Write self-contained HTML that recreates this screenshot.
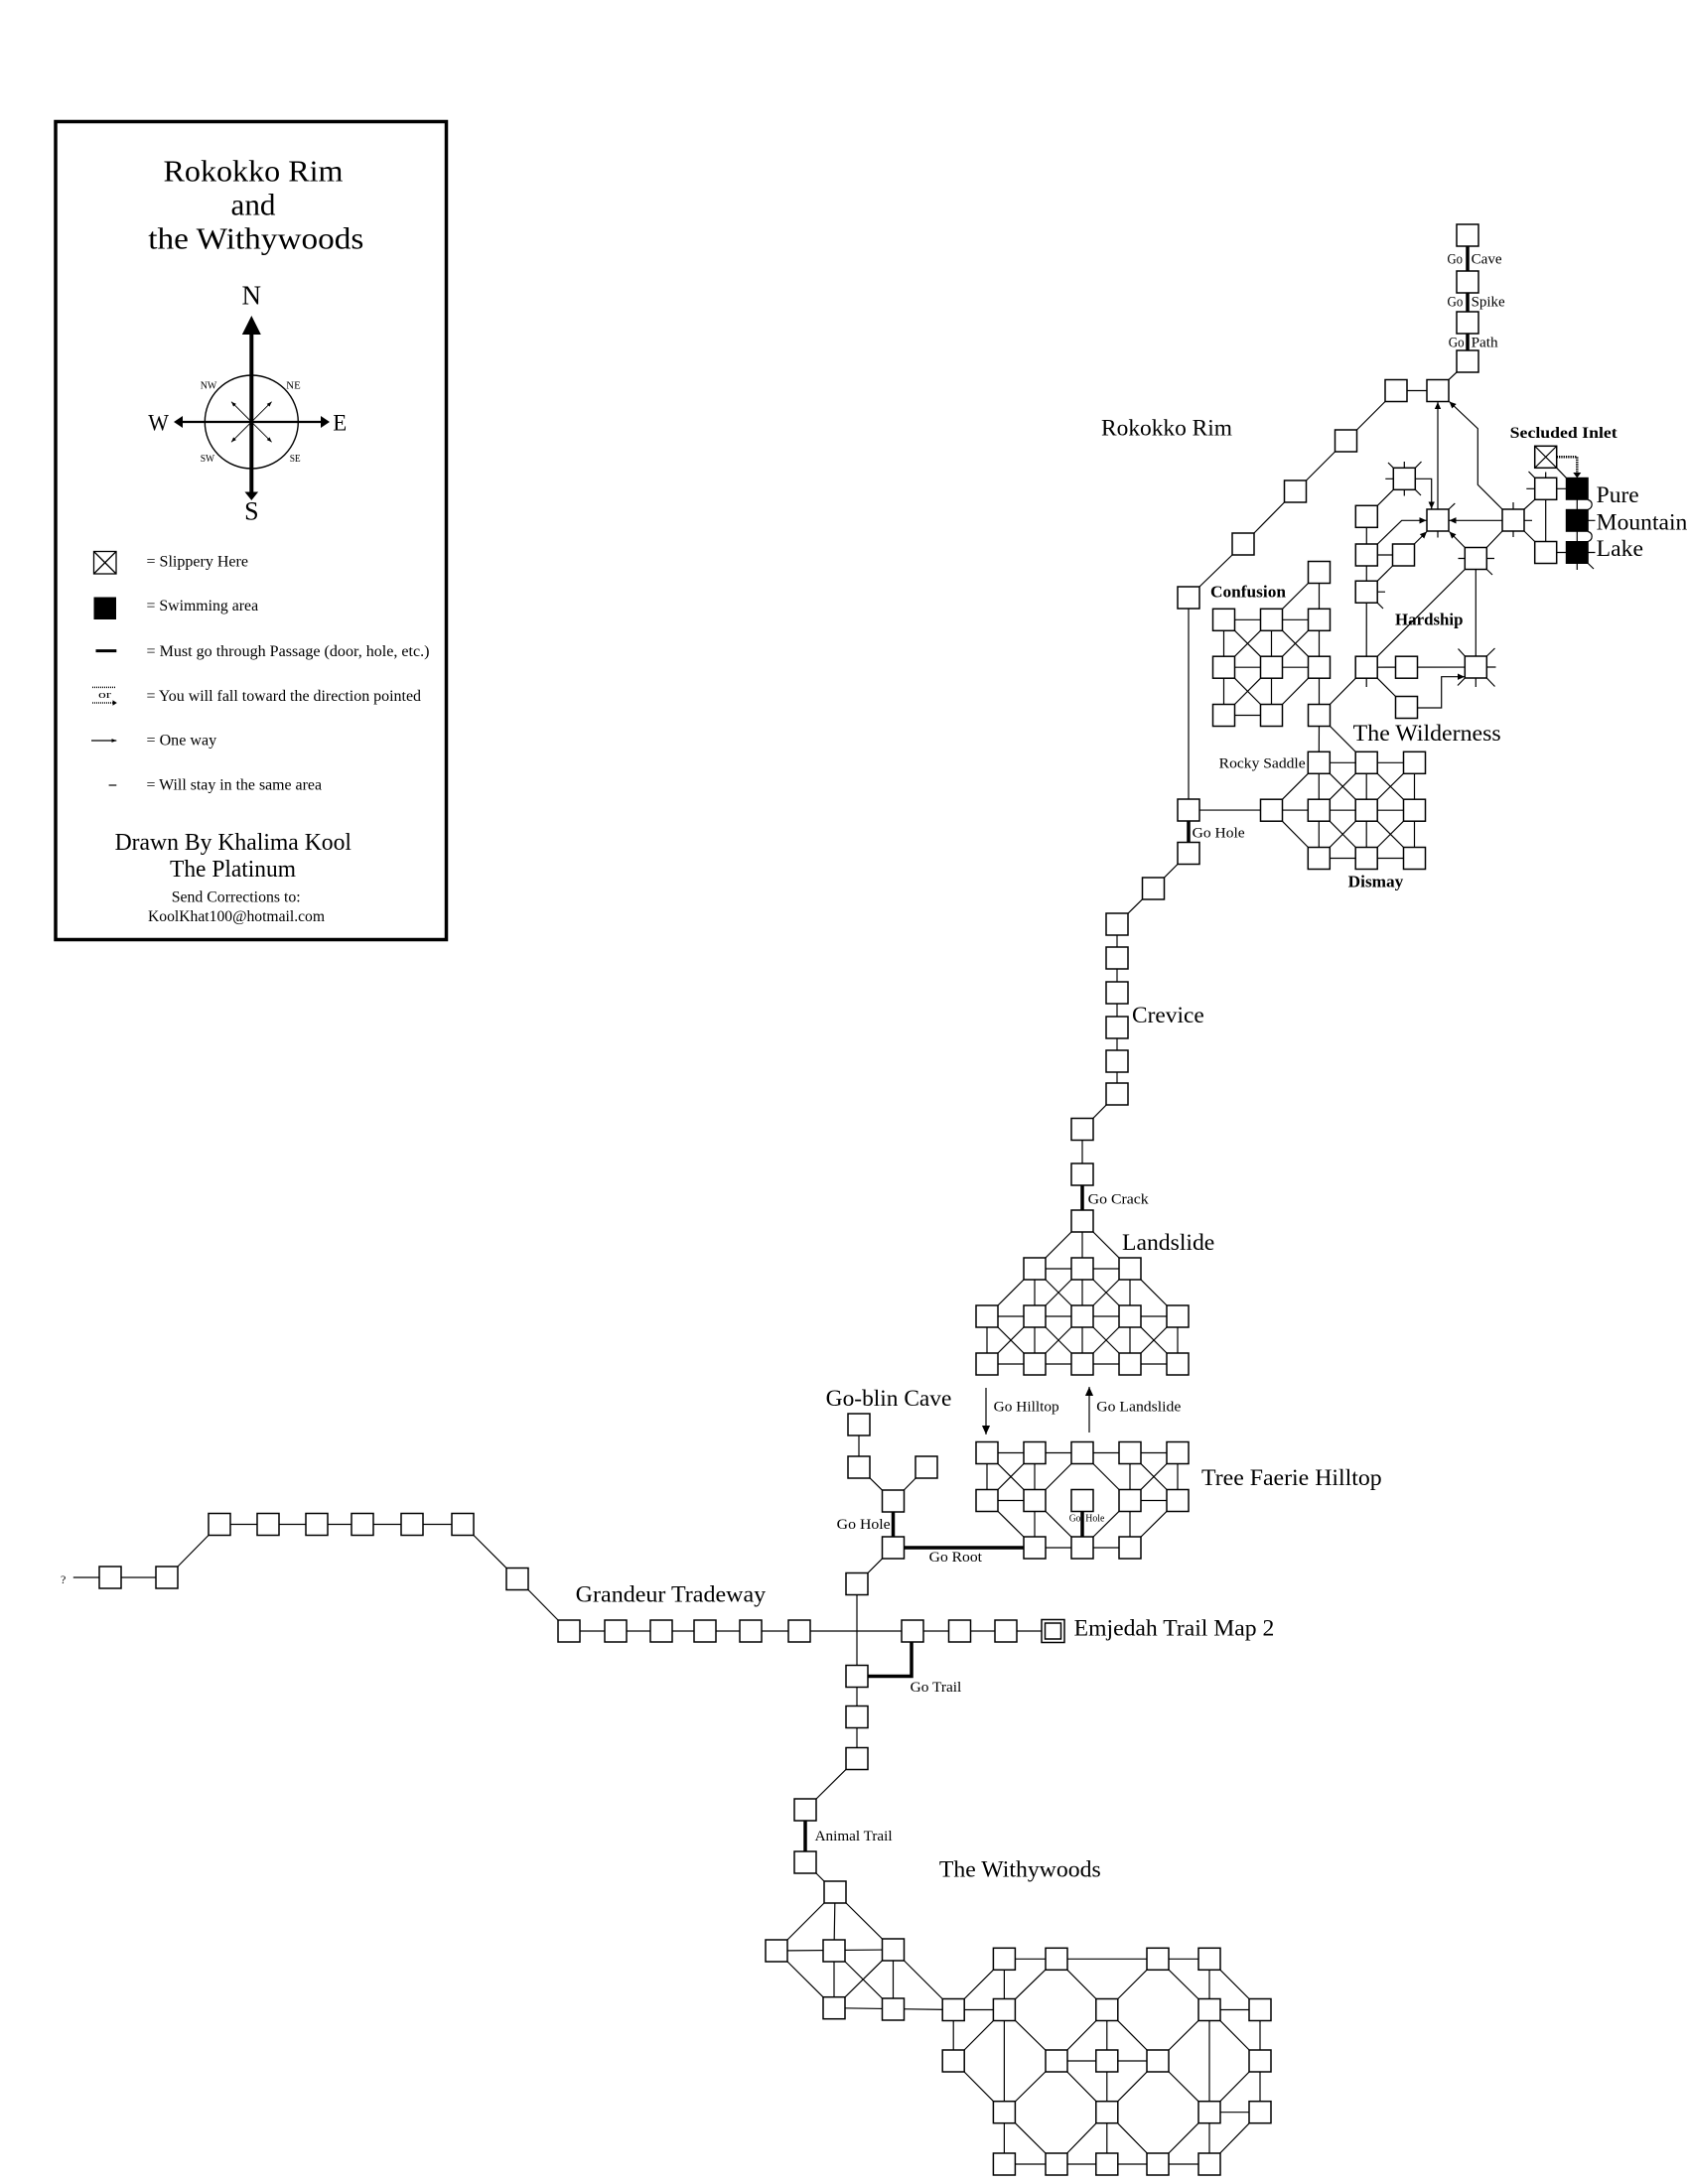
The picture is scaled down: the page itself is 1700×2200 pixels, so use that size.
<!DOCTYPE html>
<html>
<head>
<meta charset="utf-8">
<style>
html,body{margin:0;padding:0;background:#fff;}
svg{display:block;}
text{font-family:"Liberation Serif","Times New Roman",serif;fill:#000;}
</style>
</head>
<body>
<svg xmlns="http://www.w3.org/2000/svg" width="1700" height="2200" viewBox="0 0 1700 2200">
<defs>
<marker id="ah" viewBox="0 0 10 10" refX="10" refY="5" markerWidth="7" markerHeight="7" markerUnits="userSpaceOnUse" orient="auto"><path d="M0,0.5 L10,5 L0,9.5 z" fill="#000"/></marker>
<marker id="ahb" viewBox="0 0 10 10" refX="10" refY="5" markerWidth="9" markerHeight="9" markerUnits="userSpaceOnUse" orient="auto"><path d="M0,0.5 L10,5 L0,9.5 z" fill="#000"/></marker>
<marker id="ahs" viewBox="0 0 10 10" refX="10" refY="5" markerWidth="5" markerHeight="5" markerUnits="userSpaceOnUse" orient="auto"><path d="M0,1 L10,5 L0,9 z" fill="#000"/></marker>
</defs>
<rect width="1700" height="2200" fill="#fff"/>

<!-- ================= LEGEND BOX ================= -->
<rect x="56" y="122.5" width="393.5" height="824" fill="none" stroke="#000" stroke-width="3.5"/>
<text x="255" y="182.4" font-size="31" text-anchor="middle" textLength="181" lengthAdjust="spacingAndGlyphs">Rokokko Rim</text>
<text x="255" y="216.5" font-size="31" text-anchor="middle" textLength="45" lengthAdjust="spacingAndGlyphs">and</text>
<text x="257.8" y="250.7" font-size="31" text-anchor="middle" textLength="217" lengthAdjust="spacingAndGlyphs">the Withywoods</text>

<!-- compass -->
<g stroke="#000" fill="none">
<circle cx="253.3" cy="425" r="47" stroke-width="1.4"/>
<line x1="253.3" y1="334" x2="253.3" y2="497" stroke-width="4"/>
<line x1="182" y1="425" x2="324.5" y2="425" stroke-width="2.2"/>
<g stroke-width="0.9">
<line x1="253.3" y1="425" x2="233" y2="404.7" marker-end="url(#ahs)"/>
<line x1="253.3" y1="425" x2="273.6" y2="404.7" marker-end="url(#ahs)"/>
<line x1="253.3" y1="425" x2="233" y2="445.3" marker-end="url(#ahs)"/>
<line x1="253.3" y1="425" x2="273.6" y2="445.3" marker-end="url(#ahs)"/>
</g>
</g>
<g fill="#000">
<polygon points="253.3,318 243.8,337 262.8,337"/>
<polygon points="253.3,504 246.5,495.5 260.1,495.5"/>
<polygon points="175,425 184,419 184,431"/>
<polygon points="332,425 323,419 323,431"/>
</g>
<text x="253.3" y="306.7" font-size="27" text-anchor="middle">N</text>
<text x="253.3" y="523.3" font-size="26" text-anchor="middle">S</text>
<text x="149.3" y="433.3" font-size="23" textLength="20.7" lengthAdjust="spacingAndGlyphs">W</text>
<text x="335.3" y="433.3" font-size="23" textLength="14" lengthAdjust="spacingAndGlyphs">E</text>
<text x="201.7" y="391.7" font-size="10" textLength="16.6" lengthAdjust="spacingAndGlyphs">NW</text>
<text x="288.3" y="391.7" font-size="10" textLength="14.4" lengthAdjust="spacingAndGlyphs">NE</text>
<text x="201.7" y="465" font-size="10" textLength="14.4" lengthAdjust="spacingAndGlyphs">SW</text>
<text x="291.7" y="465" font-size="10" textLength="11" lengthAdjust="spacingAndGlyphs">SE</text>

<!-- legend symbols -->
<g stroke="#000" fill="none" stroke-width="1.3">
<rect x="94.5" y="555.5" width="22.5" height="22.5" fill="#fff"/>
<path d="M94.5,555.5L117,578M117,555.5L94.5,578"/>
</g>
<rect x="94.5" y="601.5" width="22.5" height="22.5" fill="#000"/>
<line x1="96.5" y1="655.6" x2="117.3" y2="655.6" stroke="#000" stroke-width="3"/>
<line x1="93" y1="692.4" x2="117" y2="692.4" stroke="#000" stroke-width="1.5" stroke-dasharray="1,1"/>
<text x="99" y="703" font-size="10" textLength="13" lengthAdjust="spacingAndGlyphs">or</text>
<line x1="93" y1="708" x2="114" y2="708" stroke="#000" stroke-width="1.5" stroke-dasharray="1,1"/>
<polygon points="113.5,705.3 117.8,708 113.5,710.7" fill="#000"/>
<line x1="92" y1="746" x2="117.3" y2="746" stroke="#000" stroke-width="1.2" marker-end="url(#ahs)"/>
<line x1="109.6" y1="791" x2="117.3" y2="791" stroke="#000" stroke-width="1.2"/>

<g font-size="15.5">
<text x="147.5" y="570.5" textLength="102.5" lengthAdjust="spacingAndGlyphs">= Slippery Here</text>
<text x="147.5" y="615" textLength="112.6" lengthAdjust="spacingAndGlyphs">= Swimming area</text>
<text x="147.5" y="661" textLength="285" lengthAdjust="spacingAndGlyphs">= Must go through Passage (door, hole, etc.)</text>
<text x="147.5" y="706" textLength="276.5" lengthAdjust="spacingAndGlyphs">= You will fall toward the direction pointed</text>
<text x="147.5" y="750.4" textLength="70.6" lengthAdjust="spacingAndGlyphs">= One way</text>
<text x="147.5" y="795.4" textLength="176.5" lengthAdjust="spacingAndGlyphs">= Will stay in the same area</text>
</g>
<text x="115.6" y="856" font-size="24" textLength="238.4" lengthAdjust="spacingAndGlyphs">Drawn By Khalima Kool</text>
<text x="171" y="883" font-size="24" textLength="127" lengthAdjust="spacingAndGlyphs">The Platinum</text>
<text x="172.7" y="908.7" font-size="16" textLength="130" lengthAdjust="spacingAndGlyphs">Send Corrections to:</text>
<text x="149" y="928" font-size="16" textLength="178" lengthAdjust="spacingAndGlyphs">KoolKhat100@hotmail.com</text>

<!-- ================= THIN LINES ================= -->
<g stroke="#000" stroke-width="1.2" fill="none">
<!-- Rokokko rim chain -->
<path d="M1467,375L1459,382.5M1406,393.5L1448,393.5M1395,404.5L1366.5,433M1344.5,455L1315.5,484M1293.5,506L1263,537M1241,559L1208,591M1197,602L1197,816M1197,816L1424.5,816.2"/>
<!-- crevice -->
<path d="M1197,859.5L1161.5,895L1125,931L1125,1102L1090,1137.5L1090,1183"/>
<!-- confusion -->
<path d="M1328.5,576.5L1328.5,720.5M1328.5,576.5L1280.5,624.3M1232.5,624.3L1328.5,624.3M1232.5,672.2L1328.5,672.2M1232.5,720.5L1280.5,720.5M1232.5,624.3L1232.5,720.5M1280.5,624.3L1280.5,720.5M1232.5,624.3L1280.5,672.2M1280.5,624.3L1232.5,672.2M1280.5,624.3L1328.5,672.2M1328.5,624.3L1280.5,672.2M1232.5,672.2L1280.5,720.5M1280.5,672.2L1232.5,720.5M1328.5,672.2L1280.5,720.5M1328.5,720.5L1376.2,672.2M1328.5,720.5L1328.3,768.3M1328.5,720.5L1376.2,768.3"/>
<!-- dismay -->
<path d="M1280.5,816.2L1328.3,768.3M1280.5,816.2L1328.3,864.5M1328.3,768.3L1424.5,768.3M1328.3,864.5L1424.5,864.5M1328.3,768.3L1328.3,864.5M1376.2,768.3L1376.2,864.5M1424.5,768.3L1424.5,864.5M1328.3,768.3L1376.2,816.2M1376.2,768.3L1328.3,816.2M1376.2,768.3L1424.5,816.2M1424.5,768.3L1376.2,816.2M1328.3,816.2L1376.2,864.5M1376.2,816.2L1328.3,864.5M1376.2,816.2L1424.5,864.5M1424.5,816.2L1376.2,864.5"/>
<!-- hardship -->
<path d="M1376.3,520.3L1376.2,672.2M1403.3,493.3L1387.3,509.3M1376.3,559L1413.5,559M1402.5,570L1387.2,585.2M1387.2,596.2L1395,596.2M1387.2,607.2L1393,613M1376.2,672.2L1486.3,672M1387.2,661.2L1475.3,573.5M1387.2,683.2L1405.5,701.5M1376.2,683.2L1376.2,692M1486.3,562.5L1486.3,672M1497.3,551.5L1513,535M1535,513L1545.7,503.3M1535,535L1545.7,545.5M1556.7,492.3L1556.7,556.5M1556.7,492.3L1588.3,492.3M1556.7,556.5L1588.3,556.5M1588.3,492.3L1588.3,556.5M1567.7,471.3L1577.3,481.3"/>
<!-- spikes -->
<path d="M1414.3,465L1414.3,471.3M1398,466L1403.3,471.3M1425.3,471.3L1431.5,465M1395.3,482.3L1403.3,482.3M1414.3,493.3L1414.3,499.5M1425.3,493.3L1431,499M1459,513L1465.3,507M1448,535L1448,541.5M1524,506L1524,513M1535,524.3L1543,524.3M1524,535L1524,541M1556.7,475.5L1556.7,481.3M1537.3,492.3L1545.7,492.3M1539.5,475L1545.7,481.3M1599.3,524.3L1606.5,524.3M1599.3,556.5L1606.5,556.5M1588.3,567.5L1588.3,574M1599.3,567.5L1605,573M1468.5,562.5L1475.3,562.5M1497.3,562.5L1505,562.5M1497.3,573.5L1503,579M1468.5,653.5L1475.3,661M1497.3,661L1505.5,653M1497.3,672L1506.5,672M1486.3,683L1486.3,692M1475.3,683L1468,690.5M1497.3,683L1505.5,691.5"/>
<path d="M1599.3,503.5C1604.5,505 1604.5,511.5 1599.3,513.3M1599.3,535.5C1604.5,537 1604.5,543.5 1599.3,545.5"/>
<!-- arrows -->
<path d="M1448,513L1448,405" marker-end="url(#ah)"/>
<path d="M1513,513L1488.3,488.3L1488.3,431.7L1459.5,404.5" marker-end="url(#ah)"/>
<path d="M1513,524.3L1459.5,524.3" marker-end="url(#ah)"/>
<path d="M1425.3,482.3L1441.7,482.3L1441.7,512.5" marker-end="url(#ah)"/>
<path d="M1387.3,548L1411.7,524.3L1436.5,524.3" marker-end="url(#ah)"/>
<path d="M1424.3,548L1437,535.5" marker-end="url(#ah)"/>
<path d="M1475.3,551.5L1459.5,535.5" marker-end="url(#ah)"/>
<path d="M1427.5,713L1451.7,713L1451.7,681.7L1475,681.7" marker-end="url(#ah)"/>

<!-- landslide -->
<path d="M1090,1230L1042,1278M1090,1230L1090,1278M1090,1230L1138,1278M1042,1278L1138,1278M1042,1278L994,1326M1138,1278L1186,1326M1042,1278L1042,1326M1090,1278L1090,1326M1138,1278L1138,1326M1042,1278L1090,1326M1090,1278L1042,1326M1090,1278L1138,1326M1138,1278L1090,1326M994,1326L1186,1326M994,1326L994,1374M1042,1326L1042,1374M1090,1326L1090,1374M1138,1326L1138,1374M1186,1326L1186,1374M994,1326L1042,1374M1042,1326L994,1374M1042,1326L1090,1374M1090,1326L1042,1374M1090,1326L1138,1374M1138,1326L1090,1374M1138,1326L1186,1374M1186,1326L1138,1374M994,1374L1186,1374"/>
<!-- tree faerie -->
<path d="M994,1463.5L1186,1463.5M994,1463.5L994,1511.5M1042,1463.5L1042,1511.5M1138,1463.5L1138,1511.5M1186,1463.5L1186,1511.5M994,1463.5L1042,1511.5M1042,1463.5L994,1511.5M1138,1463.5L1186,1511.5M1186,1463.5L1138,1511.5M1090,1463.5L1042,1511.5M1090,1463.5L1138,1511.5M994,1511.5L1042,1511.5M1138,1511.5L1186,1511.5M994,1511.5L1042,1559M1186,1511.5L1138,1559M1042,1511.5L1042,1559M1138,1511.5L1138,1559M1042,1511.5L1090,1559M1138,1511.5L1090,1559M1042,1559L1138,1559"/>
<path d="M993,1398L993,1445" marker-end="url(#ahb)"/>
<path d="M1097,1443L1097,1397" marker-end="url(#ahb)"/>
<!-- goblin / center -->
<path d="M865,1435L865,1478M865,1478L899.5,1512M933,1478L899.5,1512M899.5,1559L863,1595.5M863,1595.5L863,1771.5M573,1643L1060,1643M863,1771.5L811,1823M811,1876L841,1906"/>
<!-- grandeur left -->
<path d="M73.8,1589L168,1589M179,1578L210,1546.5M221,1535.5L466,1535.5M477,1546.5L510,1579.5M532,1601.5L562,1632"/>
<!-- withywoods small -->
<path d="M841,1906L782,1965M841,1906L840,1965M841,1906L899.5,1964M782,1965L899.5,1964M782,1965L840,2022.7M840,1965L840,2022.7M840,1965L899.5,2024M899.5,1964L840,2022.7M899.5,1964L899.5,2024M840,2022.7L960.2,2024.5M899.5,1964L960.2,2024.5"/>
<!-- withywoods big -->
<path d="M1011.4,1973.3L1218,1973.3M1011.4,1973.3L1011.4,2024.5M1011.4,1973.3L960.2,2024.5M1064,1973.3L1011.4,2024.5M1064,1973.3L1114.8,2024.5M1166,1973.3L1114.8,2024.5M1166,1973.3L1218,2024.5M1218,1973.3L1218,2024.5M1218,1973.3L1269,2024.5M960.2,2024.5L1011.4,2024.5M1218,2024.5L1269,2024.5M960.2,2024.5L960.2,2076M1011.4,2024.5L1011.4,2127.7M1011.4,2024.5L960.2,2076M1011.4,2024.5L1064,2076M1114.8,2024.5L1064,2076M1114.8,2024.5L1114.8,2076M1114.8,2024.5L1166,2076M1218,2024.5L1166,2076M1218,2024.5L1218,2127.7M1218,2024.5L1269,2076M1269,2024.5L1269,2076M1064,2076L1166,2076M960.2,2076L1011.4,2127.7M1064,2076L1011.4,2127.7M1064,2076L1114.8,2127.7M1114.8,2076L1114.8,2127.7M1166,2076L1114.8,2127.7M1166,2076L1218,2127.7M1269,2076L1269,2127.7M1269,2076L1218,2127.7M1218,2127.7L1269,2127.7M1011.4,2127.7L1011.4,2180M1011.4,2127.7L1064,2180M1114.8,2127.7L1064,2180M1114.8,2127.7L1114.8,2180M1114.8,2127.7L1166,2180M1218,2127.7L1166,2180M1218,2127.7L1218,2180M1269,2127.7L1218,2180M1011.4,2180L1218,2180"/>
</g>

<!-- ================= THICK PASSAGE LINES ================= -->
<g stroke="#000" stroke-width="3.5" fill="none">
<path d="M1478,248L1478,273M1478,295L1478,314M1478,336L1478,353"/>
<path d="M1197,827L1197,848.5"/>
<path d="M1090,1194L1090,1219"/>
<path d="M1090,1522.5L1090,1548"/>
<path d="M910.5,1559L1031,1559"/>
<path d="M899.5,1523L899.5,1548"/>
<path d="M918,1654L918,1688.5L874,1688.5"/>
<path d="M811,1834L811,1865"/>
</g>
<!-- dotted fall arrow -->
<path d="M1567.7,460.3L1588.3,460.3L1588.3,477" stroke="#000" stroke-width="2.5" fill="none" stroke-dasharray="1.3,1"/>
<polygon points="1584.3,476 1592.3,476 1588.3,481.5" fill="#000"/>

<!-- ================= BOXES ================= -->
<g fill="#fff" stroke="#000" stroke-width="1.5">
<!-- top chain -->
<rect x="1467" y="226" width="22" height="22"/><rect x="1467" y="273" width="22" height="22"/><rect x="1467" y="314" width="22" height="22"/><rect x="1467" y="353" width="22" height="22"/>
<rect x="1395" y="382.5" width="22" height="22"/><rect x="1437" y="382.5" width="22" height="22"/>
<rect x="1344.5" y="433" width="22" height="22"/><rect x="1293.5" y="484" width="22" height="22"/><rect x="1241" y="537" width="22" height="22"/><rect x="1186" y="591" width="22" height="22"/>
<rect x="1186" y="805" width="22" height="22"/><rect x="1186" y="848.5" width="22" height="22"/>
<!-- crevice -->
<rect x="1150.5" y="884" width="22" height="22"/><rect x="1114" y="920" width="22" height="22"/><rect x="1114" y="954" width="22" height="22"/><rect x="1114" y="989" width="22" height="22"/><rect x="1114" y="1024" width="22" height="22"/><rect x="1114" y="1058" width="22" height="22"/><rect x="1114" y="1091" width="22" height="22"/><rect x="1079" y="1126.5" width="22" height="22"/><rect x="1079" y="1172" width="22" height="22"/>
<!-- landslide -->
<rect x="1079" y="1219" width="22" height="22"/>
<rect x="1031" y="1267" width="22" height="22"/><rect x="1079" y="1267" width="22" height="22"/><rect x="1127" y="1267" width="22" height="22"/>
<rect x="983" y="1315" width="22" height="22"/><rect x="1031" y="1315" width="22" height="22"/><rect x="1079" y="1315" width="22" height="22"/><rect x="1127" y="1315" width="22" height="22"/><rect x="1175" y="1315" width="22" height="22"/>
<rect x="983" y="1363" width="22" height="22"/><rect x="1031" y="1363" width="22" height="22"/><rect x="1079" y="1363" width="22" height="22"/><rect x="1127" y="1363" width="22" height="22"/><rect x="1175" y="1363" width="22" height="22"/>
<!-- tree faerie -->
<rect x="983" y="1452.5" width="22" height="22"/><rect x="1031" y="1452.5" width="22" height="22"/><rect x="1079" y="1452.5" width="22" height="22"/><rect x="1127" y="1452.5" width="22" height="22"/><rect x="1175" y="1452.5" width="22" height="22"/>
<rect x="983" y="1500.5" width="22" height="22"/><rect x="1031" y="1500.5" width="22" height="22"/><rect x="1079" y="1500.5" width="22" height="22"/><rect x="1127" y="1500.5" width="22" height="22"/><rect x="1175" y="1500.5" width="22" height="22"/>
<rect x="1031" y="1548" width="22" height="22"/><rect x="1079" y="1548" width="22" height="22"/><rect x="1127" y="1548" width="22" height="22"/>
<!-- goblin -->
<rect x="854" y="1424" width="22" height="22"/><rect x="854" y="1467" width="22" height="22"/><rect x="922" y="1467" width="22" height="22"/><rect x="888.5" y="1501" width="22" height="22"/><rect x="888.5" y="1548" width="22" height="22"/><rect x="852" y="1584.5" width="22" height="22"/>
<!-- tradeway row -->
<rect x="562" y="1632" width="22" height="22"/><rect x="609" y="1632" width="22" height="22"/><rect x="655" y="1632" width="22" height="22"/><rect x="699" y="1632" width="22" height="22"/><rect x="745" y="1632" width="22" height="22"/><rect x="794" y="1632" width="22" height="22"/>
<rect x="908" y="1632" width="22" height="22"/><rect x="955.5" y="1632" width="22" height="22"/><rect x="1002" y="1632" width="22" height="22"/>
<rect x="1049" y="1631.5" width="23" height="23"/><rect x="1052.5" y="1635" width="16" height="16"/>
<rect x="852" y="1677.5" width="22" height="22"/><rect x="852" y="1718.5" width="22" height="22"/><rect x="852" y="1760.5" width="22" height="22"/>
<!-- grandeur left -->
<rect x="100" y="1578" width="22" height="22"/><rect x="157" y="1578" width="22" height="22"/>
<rect x="210" y="1524.5" width="22" height="22"/><rect x="259" y="1524.5" width="22" height="22"/><rect x="308" y="1524.5" width="22" height="22"/><rect x="354" y="1524.5" width="22" height="22"/><rect x="404" y="1524.5" width="22" height="22"/><rect x="455" y="1524.5" width="22" height="22"/>
<rect x="510" y="1579.5" width="22" height="22"/>
<!-- withywoods small -->
<rect x="800" y="1812" width="22" height="22"/><rect x="800" y="1865" width="22" height="22"/><rect x="830" y="1895" width="22" height="22"/>
<rect x="771" y="1954" width="22" height="22"/><rect x="829" y="1954" width="22" height="22"/><rect x="888.5" y="1953" width="22" height="22"/>
<rect x="829" y="2011.7" width="22" height="22"/><rect x="888.5" y="2013" width="22" height="22"/>
<!-- withywoods big -->
<rect x="1000.4" y="1962.3" width="22" height="22"/><rect x="1053" y="1962.3" width="22" height="22"/><rect x="1155" y="1962.3" width="22" height="22"/><rect x="1207" y="1962.3" width="22" height="22"/>
<rect x="949.2" y="2013.5" width="22" height="22"/><rect x="1000.4" y="2013.5" width="22" height="22"/><rect x="1103.8" y="2013.5" width="22" height="22"/><rect x="1207" y="2013.5" width="22" height="22"/><rect x="1258" y="2013.5" width="22" height="22"/>
<rect x="949.2" y="2065" width="22" height="22"/><rect x="1053" y="2065" width="22" height="22"/><rect x="1103.8" y="2065" width="22" height="22"/><rect x="1155" y="2065" width="22" height="22"/><rect x="1258" y="2065" width="22" height="22"/>
<rect x="1000.4" y="2116.7" width="22" height="22"/><rect x="1103.8" y="2116.7" width="22" height="22"/><rect x="1207" y="2116.7" width="22" height="22"/><rect x="1258" y="2116.7" width="22" height="22"/>
<rect x="1000.4" y="2169" width="22" height="22"/><rect x="1053" y="2169" width="22" height="22"/><rect x="1103.8" y="2169" width="22" height="22"/><rect x="1155" y="2169" width="22" height="22"/><rect x="1207" y="2169" width="22" height="22"/>
<!-- confusion -->
<rect x="1317.5" y="565.5" width="22" height="22"/>
<rect x="1221.5" y="613.3" width="22" height="22"/><rect x="1269.5" y="613.3" width="22" height="22"/><rect x="1317.5" y="613.3" width="22" height="22"/>
<rect x="1221.5" y="661.2" width="22" height="22"/><rect x="1269.5" y="661.2" width="22" height="22"/><rect x="1317.5" y="661.2" width="22" height="22"/>
<rect x="1221.5" y="709.5" width="22" height="22"/><rect x="1269.5" y="709.5" width="22" height="22"/><rect x="1317.5" y="709.5" width="22" height="22"/>
<!-- hardship -->
<rect x="1365.2" y="661.2" width="22" height="22"/><rect x="1405.5" y="661.2" width="22" height="22"/><rect x="1405.5" y="701.5" width="22" height="22"/><rect x="1475.3" y="661" width="22" height="22"/><rect x="1475.3" y="551.5" width="22" height="22"/>
<rect x="1365.2" y="585.2" width="22" height="22"/><rect x="1365.3" y="548" width="22" height="22"/><rect x="1402.5" y="548" width="22" height="22"/><rect x="1365.3" y="509.3" width="22" height="22"/><rect x="1403.3" y="471.3" width="22" height="22"/>
<rect x="1437" y="513" width="22" height="22"/><rect x="1513" y="513" width="22" height="22"/>
<rect x="1545.7" y="481.3" width="22" height="22"/><rect x="1545.7" y="545.5" width="22" height="22"/>
<rect x="1545.7" y="449.3" width="22" height="22"/>
<!-- dismay -->
<rect x="1317.3" y="757.3" width="22" height="22"/><rect x="1365.2" y="757.3" width="22" height="22"/><rect x="1413.5" y="757.3" width="22" height="22"/>
<rect x="1269.5" y="805.2" width="22" height="22"/><rect x="1317.3" y="805.2" width="22" height="22"/><rect x="1365.2" y="805.2" width="22" height="22"/><rect x="1413.5" y="805.2" width="22" height="22"/>
<rect x="1317.3" y="853.5" width="22" height="22"/><rect x="1365.2" y="853.5" width="22" height="22"/><rect x="1413.5" y="853.5" width="22" height="22"/>
</g>
<!-- slippery X -->
<path d="M1545.7,449.3L1567.7,471.3M1567.7,449.3L1545.7,471.3" stroke="#000" stroke-width="1.1"/>
<!-- swimming boxes -->
<g fill="#000" stroke="#000" stroke-width="1">
<rect x="1577.3" y="481.3" width="22" height="22"/><rect x="1577.3" y="513.3" width="22" height="22"/><rect x="1577.3" y="545.5" width="22" height="22"/>
</g>

<!-- ================= LABELS ================= -->
<g font-size="14.5">
<text x="1457.5" y="265.6" textLength="15.5" lengthAdjust="spacingAndGlyphs">Go</text>
<text x="1481.6" y="265.6" textLength="31" lengthAdjust="spacingAndGlyphs">Cave</text>
<text x="1457.5" y="308.4" textLength="15.8" lengthAdjust="spacingAndGlyphs">Go</text>
<text x="1481.6" y="308.4" textLength="34" lengthAdjust="spacingAndGlyphs">Spike</text>
<text x="1458.8" y="349.4" textLength="15.8" lengthAdjust="spacingAndGlyphs">Go</text>
<text x="1481.6" y="349.4" textLength="27" lengthAdjust="spacingAndGlyphs">Path</text>
<text x="1227.7" y="773.3" textLength="87" lengthAdjust="spacingAndGlyphs">Rocky Saddle</text>
<text x="1200.7" y="843.3" textLength="53" lengthAdjust="spacingAndGlyphs">Go Hole</text>
<text x="1095.7" y="1212.7" textLength="61" lengthAdjust="spacingAndGlyphs">Go Crack</text>
<text x="1000.7" y="1421.7" textLength="66" lengthAdjust="spacingAndGlyphs">Go Hilltop</text>
<text x="1104.3" y="1421.7" textLength="85" lengthAdjust="spacingAndGlyphs">Go Landslide</text>
<text x="842.7" y="1540" textLength="54" lengthAdjust="spacingAndGlyphs">Go Hole</text>
<text x="935.7" y="1573" textLength="53.3" lengthAdjust="spacingAndGlyphs">Go Root</text>
<text x="916.7" y="1704" textLength="51.6" lengthAdjust="spacingAndGlyphs">Go Trail</text>
<text x="820.6" y="1854" textLength="78" lengthAdjust="spacingAndGlyphs">Animal Trail</text>
</g>
<text x="1076.7" y="1532.7" font-size="11" textLength="11.7" lengthAdjust="spacingAndGlyphs">Go</text>
<text x="1093.3" y="1532.7" font-size="11" textLength="19" lengthAdjust="spacingAndGlyphs">Hole</text>
<text x="61" y="1595" font-size="12">?</text>

<g font-size="23">
<text x="1109" y="438.6" textLength="132" lengthAdjust="spacingAndGlyphs">Rokokko Rim</text>
<text x="1607.7" y="506" textLength="43" lengthAdjust="spacingAndGlyphs">Pure</text>
<text x="1607.7" y="533.3" textLength="91.6" lengthAdjust="spacingAndGlyphs">Mountain</text>
<text x="1607.7" y="560" textLength="47.3" lengthAdjust="spacingAndGlyphs">Lake</text>
<text x="1362.7" y="746" textLength="149" lengthAdjust="spacingAndGlyphs">The Wilderness</text>
<text x="1140" y="1030" textLength="72.7" lengthAdjust="spacingAndGlyphs">Crevice</text>
<text x="1130" y="1259" textLength="93.3" lengthAdjust="spacingAndGlyphs">Landslide</text>
<text x="831.7" y="1416" textLength="126.7" lengthAdjust="spacingAndGlyphs">Go-blin Cave</text>
<text x="1210" y="1496" textLength="181.7" lengthAdjust="spacingAndGlyphs">Tree Faerie Hilltop</text>
<text x="1081.7" y="1647.7" textLength="201.7" lengthAdjust="spacingAndGlyphs">Emjedah Trail Map 2</text>
<text x="579.7" y="1613.3" textLength="191.5" lengthAdjust="spacingAndGlyphs">Grandeur Tradeway</text>
<text x="945.9" y="1890.7" textLength="162.8" lengthAdjust="spacingAndGlyphs">The Withywoods</text>
</g>
<g font-size="17" font-weight="bold">
<text x="1520.7" y="441" font-size="16" textLength="108" lengthAdjust="spacingAndGlyphs">Secluded Inlet</text>
<text x="1219" y="601.7" textLength="76" lengthAdjust="spacingAndGlyphs">Confusion</text>
<text x="1405" y="629.3" textLength="68.5" lengthAdjust="spacingAndGlyphs">Hardship</text>
<text x="1357.7" y="893.3" textLength="55.6" lengthAdjust="spacingAndGlyphs">Dismay</text>
</g>
</svg>
</body>
</html>
